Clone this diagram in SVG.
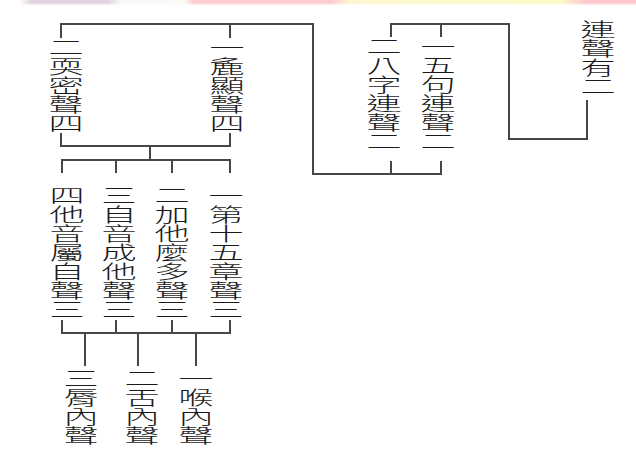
<svg xmlns="http://www.w3.org/2000/svg" width="636" height="450" viewBox="0 0 636 450">
<defs>
<linearGradient id="band" x1="0" y1="0" x2="636" y2="0" gradientUnits="userSpaceOnUse">
<stop offset="0" stop-color="#ffffff"/>
<stop offset="0.03" stop-color="#ffffff"/>
<stop offset="0.05" stop-color="#e2d4e0"/>
<stop offset="0.17" stop-color="#e2d4e2"/>
<stop offset="0.19" stop-color="#f6f8fa"/>
<stop offset="0.29" stop-color="#fafcf6"/>
<stop offset="0.305" stop-color="#ffccd2"/>
<stop offset="0.52" stop-color="#ffccd0"/>
<stop offset="0.55" stop-color="#fcf6d0"/>
<stop offset="0.88" stop-color="#fcfcc8"/>
<stop offset="0.92" stop-color="#ffc8cc"/>
<stop offset="1" stop-color="#ffc8cc"/>
</linearGradient>
<linearGradient id="fade" x1="0" y1="0" x2="0" y2="1">
<stop offset="0" stop-color="#fff" stop-opacity="0"/>
<stop offset="0.6" stop-color="#fff" stop-opacity="0"/>
<stop offset="1" stop-color="#fff" stop-opacity="0.8"/>
</linearGradient>
</defs>
<style>
.t{font-family:"Noto Sans CJK TC","Noto Sans CJK SC",sans-serif;font-size:19px;font-weight:300;fill:#1a1a1a;text-anchor:middle}
.c{fill:none;stroke:#474747;stroke-width:2}
</style>
<rect width="636" height="450" fill="#ffffff"/>
<rect x="0" y="0" width="636" height="5" fill="url(#band)"/>
<rect x="0" y="0" width="636" height="5" fill="url(#fade)"/>

<g id="connectors" class="c">
<path d="M61,38 V24 H313 V174 H441 V161"/>
<path d="M230,24 V38"/>
<path d="M391,174 V161"/>
<path d="M391,37 V24 H509 V139 H587 V100"/>
<path d="M441,24 V37"/>
<path d="M61,133 V146 H230 V133"/>
<path d="M150,146 V160"/>
<path d="M62,173 V160 H230 V173"/>
<path d="M116,160 V173"/>
<path d="M172,160 V173"/>
<path d="M62,320 V333 H230 V320"/>
<path d="M116,320 V333"/>
<path d="M172,320 V333"/>
<path d="M85,333 V366"/>
<path d="M138,333 V366"/>
<path d="M196,333 V366"/>
</g>

<g id="root">
<text class="t" transform="translate(598,0) scale(1.85,1)"><tspan x="0" y="37.5">連</tspan><tspan x="0" y="56.5">聲</tspan><tspan x="0" y="75.5">有</tspan><tspan x="0" y="94.5">二</tspan></text>
</g>
<g id="n-wuju">
<text class="t" transform="translate(438,0) scale(1.85,1)"><tspan x="0" y="54">一</tspan><tspan x="0" y="73">五</tspan><tspan x="0" y="92">句</tspan><tspan x="0" y="111">連</tspan><tspan x="0" y="130">聲</tspan><tspan x="0" y="149">二</tspan></text>
</g>
<g id="n-bazi">
<text class="t" transform="translate(384,0) scale(1.85,1)"><tspan x="0" y="54">二</tspan><tspan x="0" y="73">八</tspan><tspan x="0" y="92">字</tspan><tspan x="0" y="111">連</tspan><tspan x="0" y="130">聲</tspan><tspan x="0" y="149">二</tspan></text>
</g>
<g id="n-cuxian">
<text class="t" transform="translate(227,0) scale(1.85,1)"><tspan x="0" y="55">一</tspan><tspan x="0" y="74">麁</tspan><tspan x="0" y="93">顯</tspan><tspan x="0" y="112">聲</tspan><tspan x="0" y="131">四</tspan></text>
</g>
<g id="n-ruanmi">
<text class="t" transform="translate(66,0) scale(1.85,1)"><tspan x="0" y="55">二</tspan><tspan x="0" y="74">耎</tspan><tspan x="0" y="93">密</tspan><tspan x="0" y="112">聲</tspan><tspan x="0" y="131">四</tspan></text>
</g>
<g id="n-di15">
<text class="t" transform="translate(226,0) scale(1.85,1)"><tspan x="0" y="203">一</tspan><tspan x="0" y="222">第</tspan><tspan x="0" y="241">十</tspan><tspan x="0" y="260">五</tspan><tspan x="0" y="279">章</tspan><tspan x="0" y="298">聲</tspan><tspan x="0" y="317">三</tspan></text>
</g>
<g id="n-jiata">
<text class="t" transform="translate(172,0) scale(1.85,1)"><tspan x="0" y="203">二</tspan><tspan x="0" y="222">加</tspan><tspan x="0" y="241">他</tspan><tspan x="0" y="260">麼</tspan><tspan x="0" y="279">多</tspan><tspan x="0" y="298">聲</tspan><tspan x="0" y="317">三</tspan></text>
</g>
<g id="n-ziyin">
<text class="t" transform="translate(119,0) scale(1.85,1)"><tspan x="0" y="203">三</tspan><tspan x="0" y="222">自</tspan><tspan x="0" y="241">音</tspan><tspan x="0" y="260">成</tspan><tspan x="0" y="279">他</tspan><tspan x="0" y="298">聲</tspan><tspan x="0" y="317">三</tspan></text>
</g>
<g id="n-tayin">
<text class="t" transform="translate(67,0) scale(1.85,1)"><tspan x="0" y="203">四</tspan><tspan x="0" y="222">他</tspan><tspan x="0" y="241">音</tspan><tspan x="0" y="260">屬</tspan><tspan x="0" y="279">自</tspan><tspan x="0" y="298">聲</tspan><tspan x="0" y="317">三</tspan></text>
</g>
<g id="n-chun">
<text class="t" transform="translate(81,0) scale(1.85,1)"><tspan x="0" y="386">三</tspan><tspan x="0" y="405">脣</tspan><tspan x="0" y="424">內</tspan><tspan x="0" y="443">聲</tspan></text>
</g>
<g id="n-she">
<text class="t" transform="translate(142,0) scale(1.85,1)"><tspan x="0" y="386">二</tspan><tspan x="0" y="405">舌</tspan><tspan x="0" y="424">內</tspan><tspan x="0" y="443">聲</tspan></text>
</g>
<g id="n-hou">
<text class="t" transform="translate(196,0) scale(1.85,1)"><tspan x="0" y="386">一</tspan><tspan x="0" y="405">喉</tspan><tspan x="0" y="424">內</tspan><tspan x="0" y="443">聲</tspan></text>
</g>
</svg>
